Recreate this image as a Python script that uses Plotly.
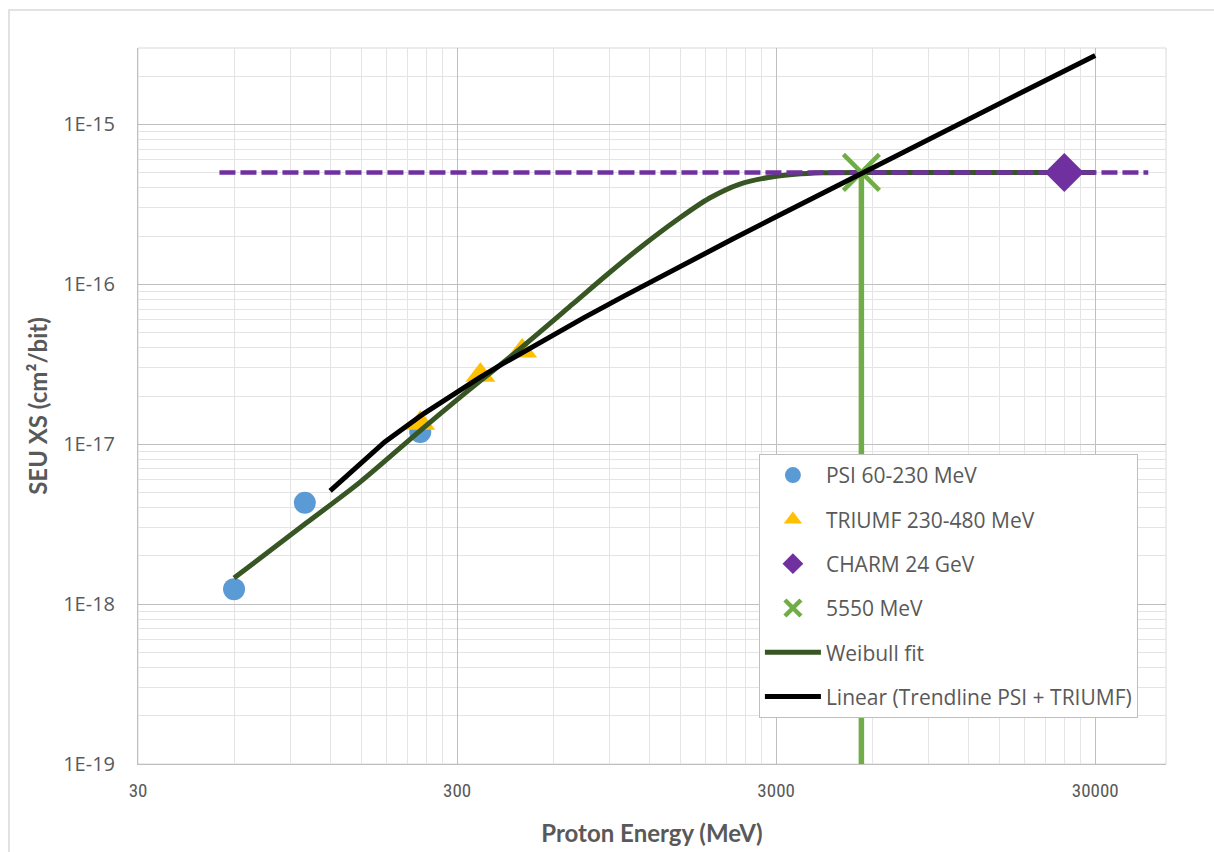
import math
import plotly.graph_objects as go

# --- measured data -------------------------------------------------------
psi_energy = [60, 100, 230]                 # MeV
psi_xs = [1.24e-18, 4.30e-18, 1.19e-17]     # cm^2/bit

triumf_energy = [230, 355, 480]
triumf_xs = [1.35e-17, 2.70e-17, 3.83e-17]

charm_energy = [24000]
charm_xs = [5.0e-16]

e5550_energy = [5550]
e5550_xs = [5.0e-16]

# Weibull fit curve (sampled)
weibull_energy = [60, 101, 149, 229, 299, 471, 690, 881, 1118, 1491, 1851,
                  2298, 3000, 4179, 5862, 10000, 30000]
weibull_xs = [1.454e-18, 3.21e-18, 5.79e-18, 1.206e-17, 1.884e-17, 3.93e-17,
              7.50e-17, 1.138e-16, 1.679e-16, 2.585e-16, 3.447e-16, 4.217e-16,
              4.73e-16, 4.97e-16, 5.0e-16, 5.0e-16, 5.0e-16]

# Linear trendline through PSI + TRIUMF (sampled)
trend_energy = [120, 178, 236, 294, 352, 410, 500, 600, 750, 1000, 1300, 1700,
                2200, 3000, 4000, 5500, 8000, 12000, 18000, 30000]
trend_xs = [5.10e-18, 1.032e-17, 1.554e-17, 2.076e-17, 2.598e-17, 3.12e-17,
            3.93e-17, 4.83e-17, 6.18e-17, 8.43e-17, 1.113e-16, 1.473e-16,
            1.923e-16, 2.643e-16, 3.543e-16, 4.893e-16, 7.143e-16, 1.0743e-15,
            1.6143e-15, 2.6943e-15]

# Saturation level and 5550 MeV marker line
saturation_energy = [54, 44000]
saturation_xs = [5.0e-16, 5.0e-16]
drop_energy = [5550, 5550]
drop_xs = [5.0e-16, 1e-19]

x_ticks = [30, 300, 3000, 30000]
x_ticktext = ["30", "300", "3000", "30000"]
y_ticks = [1e-19, 1e-18, 1e-17, 1e-16, 1e-15]
y_ticktext = ["1E-19", "1E-18", "1E-17", "1E-16", "1E-15"]

# --- styling ---------------------------------------------------------------
BLUE = "#5B9BD5"
GOLD = "#FFC000"
PURPLE = "#7030A0"
LGREEN = "#70AD47"
DGREEN = "#375623"
TXT = "#595959"
SANS = "Open Sans, Noto Sans, sans-serif"
NARROW = "Liberation Sans Narrow, Arial Narrow, Roboto Condensed, sans-serif"
TITLE = "Lato, Liberation Sans, sans-serif"

fig = go.Figure()

fig.add_trace(go.Scatter(
    x=psi_energy, y=psi_xs, mode="markers", name="PSI 60-230 MeV",
    marker=dict(symbol="circle", size=22, color=BLUE),
    legendgroup="a", legendrank=1))
fig.add_trace(go.Scatter(
    x=triumf_energy, y=triumf_xs, mode="markers", name="TRIUMF 230-480 MeV",
    marker=dict(symbol="triangle-up", size=26, color=GOLD),
    legendgroup="b", legendrank=2))
fig.add_trace(go.Scatter(
    x=weibull_energy, y=weibull_xs, mode="lines", name="Weibull fit",
    line=dict(color=DGREEN, width=5, shape="spline", smoothing=0.8),
    legendgroup="e", legendrank=5))
fig.add_trace(go.Scatter(
    x=saturation_energy, y=saturation_xs, mode="lines", showlegend=False,
    line=dict(color=PURPLE, width=4.5, dash="16px,5px"), hoverinfo="skip"))
fig.add_trace(go.Scatter(
    x=drop_energy, y=drop_xs, mode="lines", showlegend=False,
    line=dict(color=LGREEN, width=5.5), hoverinfo="skip"))
fig.add_trace(go.Scatter(
    x=charm_energy, y=charm_xs, mode="markers", name="CHARM 24 GeV",
    marker=dict(symbol="diamond", size=30, color=PURPLE),
    legendgroup="c", legendrank=3))
fig.add_trace(go.Scatter(
    x=e5550_energy, y=e5550_xs, mode="markers", name="5550 MeV",
    marker=dict(symbol="x-thin", size=36, color=LGREEN,
                line=dict(color=LGREEN, width=4.5)),
    legendgroup="d", legendrank=4))
fig.add_trace(go.Scatter(
    x=trend_energy, y=trend_xs, mode="lines",
    name="Linear (Trendline PSI + TRIUMF)",
    line=dict(color="#000000", width=5),
    legendgroup="f", legendrank=6))

minor_x = [30 * k * 10 ** n for n in range(4) for k in range(2, 10)
           if 30 * k * 10 ** n <= 50000]
minor_y = [k * 10.0 ** n for n in range(-19, -14) for k in range(2, 10)
           if k * 10.0 ** n <= 3.0001e-15]

fig.update_xaxes(
    type="log", range=[math.log10(30), math.log10(50000)],
    tickmode="array", tickvals=x_ticks, ticktext=x_ticktext,
    tickfont=dict(family=NARROW, size=19, color=TXT),
    ticks="", ticklabelstandoff=9, automargin=False,
    showgrid=True, gridcolor="#BFBFBF", gridwidth=1,
    minor=dict(tickmode="array", tickvals=minor_x, showgrid=True,
               gridcolor="#E4E4E4", gridwidth=1, ticks=""),
    showline=True, linecolor="#BFBFBF", linewidth=1, zeroline=False,
    title=dict(text="<b>Proton Energy (MeV)</b>",
               font=dict(family=TITLE, size=24, color=TXT), standoff=24))

fig.update_yaxes(
    type="log", range=[-19, math.log10(3e-15)],
    tickmode="array", tickvals=y_ticks, ticktext=y_ticktext,
    tickfont=dict(family=SANS, size=20, color=TXT),
    ticks="", ticklabelstandoff=18, automargin=False,
    showgrid=True, gridcolor="#BFBFBF", gridwidth=1,
    minor=dict(tickmode="array", tickvals=minor_y, showgrid=True,
               gridcolor="#E4E4E4", gridwidth=1, ticks=""),
    showline=True, linecolor="#BFBFBF", linewidth=1, zeroline=False,
    title=dict(text="<b>SEU XS (cm²/bit)</b>",
               font=dict(family=TITLE, size=24, color=TXT), standoff=8))

fig.update_layout(
    width=1214, height=852,
    margin=dict(l=138, r=48, t=48, b=88),
    plot_bgcolor="white", paper_bgcolor="white",
    showlegend=True,
    legend=dict(
        x=0.604, y=0.433, xanchor="left", yanchor="top",
        bgcolor="white", bordercolor="#BFBFBF", borderwidth=1,
        font=dict(family=SANS, size=21, color=TXT),
        traceorder="grouped", tracegroupgap=14, itemwidth=56),
    shapes=[
        # plot-area frame (top/right edges)
        dict(type="rect", xref="paper", yref="paper", x0=0, x1=1, y0=0, y1=1,
             line=dict(color="#D9D9D9", width=1), layer="below"),
        # outer chart border
        dict(type="rect", xref="paper", yref="paper",
             x0=-0.1255, x1=1.1, y0=-0.15, y1=1.053,
             line=dict(color="#D9D9D9", width=1.5), layer="below"),
    ],
)

fig.write_html("out.html")
